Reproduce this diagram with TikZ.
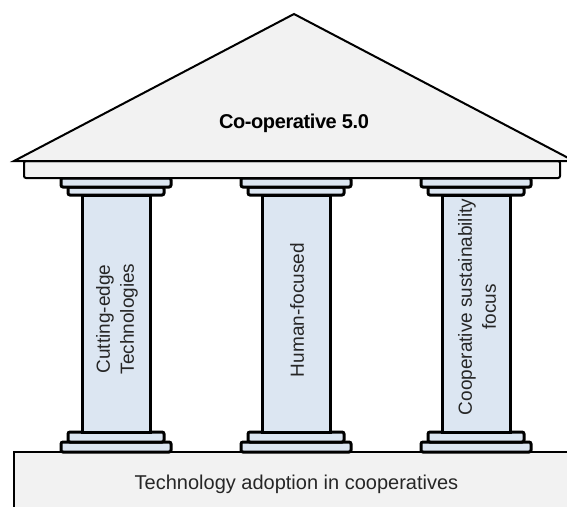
\documentclass[tikz,border=0pt]{standalone}
\usepackage{fontspec}
\setmainfont{Liberation Sans}
\newfontfamily\tightsans[LetterSpace=-2]{Liberation Sans}
\definecolor{stonegray}{HTML}{F2F2F2}
\definecolor{pillarblue}{HTML}{DCE6F2}
\begin{document}
\begin{tikzpicture}[x=1pt,y=-1pt,
  stone/.style={fill=stonegray, draw=black, line width=2pt},
  pillar/.style={fill=pillarblue, draw=black, line width=3pt},
  ring/.style={fill=pillarblue, draw=black, line width=3pt, rounded corners=2pt},
  caption/.style={font=\fontsize{20}{25}\selectfont, text=black!85, align=center, inner sep=0pt},
  pillartext/.style={caption, font=\fontsize{19}{24}\selectfont, rotate=90},
  title/.style={font=\tightsans\bfseries\fontsize{20}{25}\selectfont, text=black, inner sep=0pt},
]
\useasboundingbox (0,0) rectangle (567,506);
\clip (0,0) rectangle (567,506);

% foundation slab
\draw[stone, line width=1.5pt] (14,452) rectangle (620,540);

% three pillars: plinths, shaft, capitals
\foreach \cx in {116,296,476} {
  \draw[ring] (\cx-55,442) rectangle (\cx+55,452);
  \draw[ring] (\cx-48,432) rectangle (\cx+48,442);
  \draw[pillar] (\cx-34,195) rectangle (\cx+34,432);
  \draw[ring] (\cx-48,187) rectangle (\cx+48,195);
  \draw[ring] (\cx-55,178) rectangle (\cx+55,187);
}

% entablature and pediment
\draw[stone, rounded corners=2pt] (24,161) rectangle (560,178);
\draw[stone, line join=miter] (14,161) -- (294,14) -- (574,161) -- cycle;

% texts
\node[title, anchor=base] (roof) at (294,128) {Co-operative 5.0};
\node[caption, anchor=base] (ground) at (296.5,489) {Technology adoption in cooperatives};
\node[pillartext] (tech) at (117,319) {Cutting-edge\\Technologies};
\node[pillartext] (human) at (297,310) {Human-focused};
\node[pillartext] (sust) at (477,307) {Cooperative sustainability\\focus};
\end{tikzpicture}
\end{document}
